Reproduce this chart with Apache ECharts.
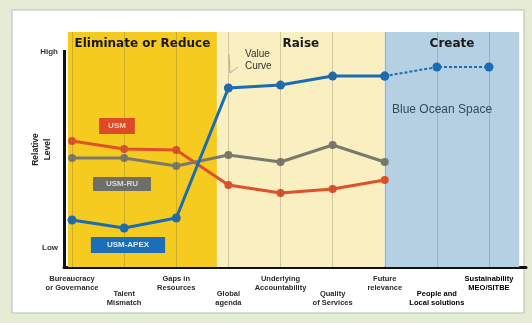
<!DOCTYPE html>
<html><head><meta charset="utf-8">
<script src="https://cdn.jsdelivr.net/npm/echarts@6/dist/echarts.min.js"></script>
<style>html,body{margin:0;padding:0;background:#e4ecd5;}#c{width:532px;height:323px;}</style>
</head><body><div id="c"></div>
<script>
var categories = ['Bureaucracy\nor Governance','Talent\nMismatch','Gaps in\nResources','Global\nagenda','Underlying\nAccountability','Quality\nof Services','Future\nrelevance','People and\nLocal solutions','Sustainability\nMEO/SITBE'];
var usm = [6.43, 6.03, 5.97, 4.19, 3.78, 3.98, 4.44];
var usmRu = [5.57, 5.57, 5.16, 5.72, 5.36, 6.23, 5.36];
var usmApex = [2.40, 1.99, 2.50, 9.14, 9.29, 9.75, 9.75];
var usmApexFuture = [null, null, null, null, null, null, 9.75, 10.21, 10.21];
var yTickValues = [1, 11];
var yTickLabels = ['Low', 'High'];
var bandNames = ['Eliminate or Reduce', 'Raise', 'Create'];
var bandEdges = [-0.08, 2.78, 6.0, 8.58];
var bandColors = ['#f6cb20', '#f9efc0', '#b5d0e3'];
var xMin = -0.154, xMax = 8.71, yMin = 0, yMax = 12, yAxisTop = 11.08;

function pairs(arr){ var out=[]; arr.forEach(function(v,i){ out.push([i, v]); }); return out; }

var FONT = '"Liberation Sans", Arial';
var chart = echarts.init(document.getElementById('c'));
chart.setOption({
  animation: false,
  backgroundColor: '#e4ecd5',
  graphic: [
    {type:'rect', z:-100, shape:{x:12,y:10,width:512,height:303}, style:{fill:'#ffffff', stroke:'#b8bcb0', lineWidth:1}},
    {type:'text', z:100, style:{text:'USM', x:117, y:126, align:'center', verticalAlign:'middle', fill:'#f7d0bc', backgroundColor:'#dc4b26', padding:[4,9], font:'bold 8px ' + FONT}},
    {type:'text', z:100, style:{text:'USM-RU', x:122, y:184, align:'center', verticalAlign:'middle', fill:'#d8d8d4', backgroundColor:'#6e6e6a', padding:[3,13], font:'bold 8px ' + FONT}},
    {type:'text', z:100, style:{text:'USM-APEX', x:128, y:245, align:'center', verticalAlign:'middle', fill:'#d8ecf8', backgroundColor:'#1c6fb6', padding:[4,16], font:'bold 8px ' + FONT}},
    {type:'text', z:100, style:{text:'Value\nCurve', x:245, y:48, fill:'#333', lineHeight:12, font:'10px ' + FONT}},
    {type:'polyline', z:100, shape:{points:[[229,55],[230,73],[238,67]]}, style:{stroke:'#aaa', lineWidth:1, fill:null}},
    {type:'text', z:100, style:{text:'Blue Ocean Space', x:392, y:110, verticalAlign:'middle', fill:'#34495c', font:'12px ' + FONT}}
  ],
  grid: {left:64, right:6, top:32, bottom:56},
  xAxis: {
    type:'value', min:xMin, max:xMax,
    splitLine:{show:false},
    axisLine:{show:true, onZero:false, lineStyle:{color:'#111', width:3}},
    axisTick:{show:false},
    axisLabel:{
      customValues: categories.map(function(c,i){return i;}),
      margin: 7, fontSize: 7.5, lineHeight: 9, color:'#222', fontFamily:FONT,
      formatter: function(v){
        var i = Math.round(v);
        var t = categories[i] || '';
        var tag = i >= 7 ? 'b' : 'n';
        var lines = t.split('\n').map(function(l){ return '{' + tag + '|' + l + '}'; }).join('\n');
        return (i % 2 === 1 ? '{s| }\n' : '') + lines;
      },
      rich: {
        s:{fontSize:7, lineHeight:15},
        n:{fontSize:7.5, lineHeight:9, color:'#2a2a2a', fontWeight:'bold', fontFamily:FONT},
        b:{fontSize:7.5, lineHeight:9, color:'#000', fontWeight:'bold', fontFamily:FONT}
      }
    }
  },
  yAxis: {
    type:'value', min:yMin, max:yMax,
    name:'Relative\nLevel', nameLocation:'middle', nameGap:10, nameRotate:90, nameMoveOverlap:false,
    nameTextStyle:{fontSize:8.5, fontWeight:'bold', color:'#222', lineHeight:12, fontFamily:FONT},
    splitLine:{show:false},
    axisLine:{show:false},
    axisTick:{show:false},
    axisLabel:{
      customValues: yTickValues, margin:6, fontSize:8, fontWeight:'bold', color:'#333', fontFamily:FONT,
      formatter: function(v){ var k = yTickValues.indexOf(v); return k >= 0 ? yTickLabels[k] : ''; }
    }
  },
  series: [
    {
      type:'line', z:1, data:[], silent:true,
      markArea: {
        silent:true,
        data: bandNames.map(function(n,i){
          return [{name:n, xAxis:bandEdges[i], itemStyle:{color:bandColors[i]}}, {xAxis:bandEdges[i+1]}];
        }),
        label:{show:true, position:'insideTop', distance:6, fontSize:12, fontWeight:'bold', color:'#1a1a1a', fontFamily:'"DejaVu Sans", sans-serif'}
      },
      markLine: {
        silent:true, symbol:'none', label:{show:false},
        lineStyle:{color:'rgba(90,80,50,0.25)', width:1, type:'solid'},
        data: categories.map(function(c,i){ return {xAxis:i}; }).concat([
          [{coord:[xMin, yMin], lineStyle:{color:'#111', width:3}}, {coord:[xMin, yAxisTop]}]
        ])
      }
    },
    {
      name:'USM', type:'line', z:3, data:pairs(usm), symbol:'circle', symbolSize:8,
      lineStyle:{color:'#e0502a', width:3}, itemStyle:{color:'#e0502a'}
    },
    {
      name:'USM-RU', type:'line', z:3, data:pairs(usmRu), symbol:'circle', symbolSize:8,
      lineStyle:{color:'#7a7a6c', width:3}, itemStyle:{color:'#7a7a6c'}
    },
    {
      name:'USM-APEX', type:'line', z:4, data:pairs(usmApex), symbol:'circle', symbolSize:9,
      lineStyle:{color:'#1a6db3', width:3}, itemStyle:{color:'#1a6db3'}
    },
    {
      name:'USM-APEX future', type:'line', z:4, data:pairs(usmApexFuture), symbol:'circle', symbolSize:9,
      lineStyle:{color:'#1a6db3', width:2, type:[3,2]}, itemStyle:{color:'#1a6db3'}
    }
  ]
});
</script></body></html>
